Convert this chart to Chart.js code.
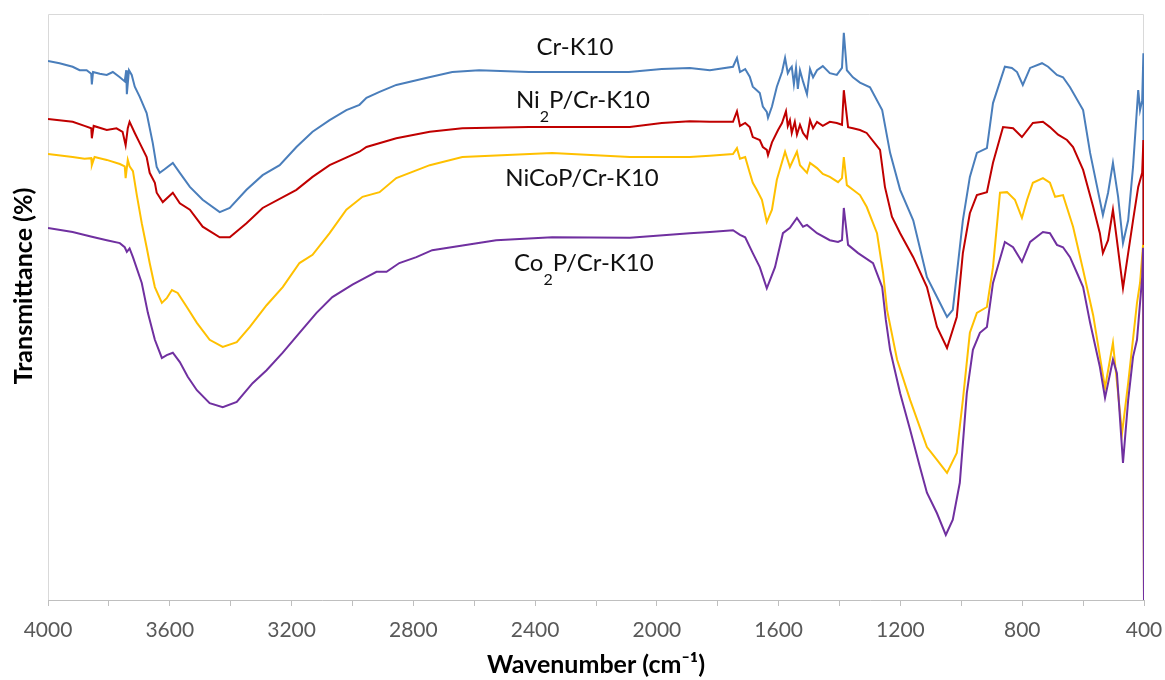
<!DOCTYPE html>
<html><head><meta charset="utf-8">
<script src="https://cdn.jsdelivr.net/npm/chart.js@4.4.0/dist/chart.umd.min.js"></script>
<style>html,body{margin:0;padding:0;background:#fff;}</style>
</head><body>
<canvas id="c" width="1165" height="680"></canvas>
<script>
// x-axis tick values (wavenumber, cm-1)
const xTicks = [4000,3600,3200,2800,2400,2000,1600,1200,800,400];
const seriesNames = ['Cr-K10','Ni2P/Cr-K10','NiCoP/Cr-K10','Co2P/Cr-K10'];

// [wavenumber, transmittance (arb. %)] pairs
const crK10 = [[4000,92.0],[3962,91.6],[3919,91.0],[3896,90.4],[3873,90.4],[3858,89.8],[3856,88.0],[3852,90.1],[3830,89.8],[3807,89.6],[3787,90.1],[3764,89.2],[3748,88.5],[3743,90.4],[3741,86.3],[3734,90.4],[3725,89.6],[3715,87.6],[3699,85.9],[3676,83.1],[3656,78.0],[3643,73.9],[3633,72.9],[3617,73.5],[3590,74.6],[3567,72.9],[3534,70.5],[3492,68.3],[3436,66.2],[3403,66.9],[3348,70.0],[3295,72.5],[3239,74.2],[3184,77.3],[3131,79.9],[3075,81.9],[3020,83.6],[2977,84.5],[2954,85.7],[2911,86.7],[2856,87.9],[2748,89.2],[2672,90.1],[2584,90.4],[2420,90.1],[2092,90.1],[1984,90.6],[1892,90.8],[1826,90.4],[1750,91.0],[1737,92.5],[1727,90.1],[1710,90.6],[1695,89.3],[1685,87.6],[1672,87.0],[1662,86.5],[1652,84.2],[1639,83.3],[1635,82.3],[1622,84.2],[1606,87.6],[1589,90.1],[1579,92.5],[1570,89.9],[1563,90.6],[1557,91.0],[1550,88.0],[1543,90.8],[1537,87.2],[1530,90.4],[1520,88.5],[1507,86.3],[1497,90.6],[1487,89.2],[1474,90.4],[1455,91.1],[1432,89.9],[1409,89.6],[1392,90.8],[1386,96.8],[1376,90.4],[1356,89.2],[1333,88.3],[1300,87.5],[1260,83.6],[1234,76.3],[1201,70.0],[1158,64.8],[1113,55.1],[1080,51.7],[1047,48.3],[1028,49.5],[995,64.8],[972,72.2],[949,76.3],[916,77.1],[896,84.8],[857,91.0],[834,90.8],[817,90.1],[798,87.9],[774,90.8],[735,91.6],[715,91.0],[686,89.6],[666,89.2],[643,87.5],[600,83.6],[577,76.3],[554,70.5],[535,65.7],[518,69.5],[502,74.6],[485,68.8],[469,60.9],[452,64.8],[436,73.9],[419,87.0],[413,83.6],[406,85.3],[402,93.3],[400,0]];

const ni2pCrK10 = [[4000,82.1],[3919,81.6],[3880,80.9],[3858,80.5],[3856,78.8],[3850,80.9],[3807,80.2],[3775,80.5],[3755,79.9],[3745,77.6],[3738,80.5],[3732,81.6],[3715,79.7],[3699,78.0],[3676,75.6],[3666,72.9],[3649,71.2],[3643,69.5],[3623,67.9],[3590,69.5],[3567,67.7],[3534,66.6],[3492,63.7],[3436,61.9],[3403,61.9],[3348,64.3],[3295,66.9],[3184,70.0],[3131,72.2],[3075,74.2],[2977,76.5],[2954,77.3],[2856,78.8],[2746,79.9],[2639,80.5],[2420,80.7],[2089,80.7],[1984,81.4],[1892,81.7],[1826,81.6],[1750,81.6],[1737,83.4],[1727,80.9],[1710,81.4],[1695,80.7],[1685,79.0],[1662,78.5],[1652,77.3],[1639,76.8],[1635,75.9],[1622,78.1],[1602,80.2],[1589,81.4],[1576,83.4],[1570,80.9],[1563,81.9],[1557,79.7],[1547,81.6],[1540,79.4],[1530,81.1],[1520,79.7],[1507,78.8],[1497,81.9],[1487,80.5],[1474,81.6],[1455,80.9],[1432,81.6],[1409,81.4],[1392,81.1],[1386,87.0],[1372,80.7],[1356,80.5],[1333,80.2],[1311,79.7],[1267,76.8],[1251,70.5],[1228,65.4],[1201,62.6],[1158,58.5],[1113,53.4],[1080,46.6],[1047,43.0],[1015,48.3],[995,59.2],[972,66.0],[949,69.1],[916,69.6],[896,74.6],[863,80.7],[830,80.5],[801,79.0],[765,81.4],[732,81.6],[709,80.7],[682,79.4],[653,78.5],[633,77.3],[600,73.4],[567,67.1],[545,62.6],[535,59.2],[518,61.4],[502,66.6],[489,61.4],[469,53.2],[452,59.2],[436,64.8],[419,70.5],[406,72.9],[402,78.5],[400,0]];

const nicopCrK10 = [[4000,76.1],[3919,75.6],[3880,75.3],[3858,75.4],[3856,74.2],[3847,75.6],[3807,75.1],[3764,74.4],[3748,74.0],[3745,72.0],[3738,75.1],[3732,74.0],[3721,73.2],[3708,69.0],[3692,64.3],[3676,60.2],[3666,57.5],[3649,53.4],[3626,50.7],[3610,51.5],[3593,52.9],[3574,52.4],[3544,50.0],[3511,47.3],[3469,44.4],[3426,43.2],[3380,44.0],[3337,46.6],[3282,50.3],[3229,53.4],[3174,57.5],[3131,58.9],[3075,62.6],[3020,66.6],[2967,68.8],[2911,69.6],[2856,72.0],[2746,74.2],[2639,75.6],[2344,76.3],[2089,75.6],[1892,75.6],[1826,75.8],[1750,76.1],[1737,77.1],[1727,75.3],[1710,75.6],[1695,72.9],[1685,71.2],[1672,70.0],[1655,68.3],[1639,64.5],[1622,66.6],[1606,71.7],[1579,76.5],[1563,73.9],[1540,76.5],[1530,74.2],[1507,72.9],[1497,74.6],[1474,73.7],[1455,72.7],[1432,72.2],[1405,71.3],[1392,72.0],[1386,75.6],[1376,70.8],[1356,70.0],[1333,69.1],[1311,67.1],[1277,62.6],[1257,55.8],[1244,49.5],[1211,41.0],[1168,34.1],[1113,26.1],[1080,23.9],[1047,21.7],[1015,25.1],[995,34.1],[972,45.6],[949,49.0],[916,50.0],[896,56.8],[873,69.5],[850,69.6],[824,68.3],[801,65.2],[784,68.3],[765,71.2],[732,72.0],[709,71.2],[692,68.8],[666,69.1],[633,63.7],[600,56.3],[567,48.6],[528,36.2],[502,43.9],[472,28.5],[452,37.0],[423,50.7],[413,54.1],[403,60.6],[400,0]];

const co2pCrK10 = [[4000,63.5],[3919,62.8],[3856,62.0],[3807,61.4],[3764,60.9],[3748,60.2],[3741,59.4],[3732,60.0],[3721,58.5],[3692,54.1],[3672,49.0],[3649,44.4],[3626,41.3],[3610,41.8],[3590,42.2],[3567,40.6],[3541,38.1],[3511,35.8],[3469,33.6],[3426,32.9],[3380,33.8],[3328,37.0],[3282,39.2],[3229,42.2],[3174,45.6],[3118,49.0],[3066,51.7],[3000,53.8],[2954,55.1],[2921,56.0],[2888,56.0],[2846,57.5],[2790,58.5],[2738,59.7],[2649,60.4],[2528,61.4],[2344,61.9],[2089,61.8],[1892,62.6],[1826,62.8],[1750,63.1],[1727,62.3],[1710,61.9],[1685,59.2],[1662,56.8],[1639,53.2],[1612,56.8],[1586,62.6],[1563,63.5],[1540,65.2],[1520,63.7],[1507,64.0],[1474,62.6],[1432,61.4],[1405,61.1],[1392,61.4],[1386,66.9],[1372,60.6],[1339,59.2],[1290,57.5],[1260,53.4],[1248,47.8],[1234,42.7],[1201,35.3],[1168,29.0],[1136,22.7],[1113,18.3],[1080,14.8],[1051,11.1],[1028,13.7],[1005,20.0],[982,35.3],[962,42.7],[939,45.6],[916,46.6],[896,54.1],[857,61.1],[830,60.2],[801,57.7],[774,61.1],[732,62.8],[709,62.6],[686,60.6],[666,60.2],[643,58.5],[620,55.8],[600,53.4],[577,47.3],[545,39.8],[528,34.5],[502,41.0],[489,38.7],[469,23.4],[452,34.1],[436,41.5],[423,44.4],[406,55.1],[403,60.1],[400,0]];

const colors = ['#4a7ebb','#c00000','#ffc000','#7030a0'];
const allSeries = [crK10, ni2pCrK10, nicopCrK10, co2pCrK10];

// label annotations: text parts ([text, isSubscript]) anchored in data units
const seriesLabels = [
  {parts:[['Cr-K10',0]], at:[2269,94.4]},
  {parts:[['Ni',0],['2',1],['P/Cr-K10',0]], at:[2243,85.3]},
  {parts:[['NiCoP/Cr-K10',0]], at:[2246,72.0]},
  {parts:[['Co',0],['2',1],['P/Cr-K10',0]], at:[2240,57.5]}
];
const yTitle = 'Transmittance (%)';

const FONT = 'Lato, "Open Sans", sans-serif';

const deco = {
  id:'deco',
  beforeDatasetsDraw(chart){
    const {ctx, chartArea:a} = chart;
    ctx.save();
    ctx.strokeStyle = '#d9d9d9'; ctx.lineWidth = 1;
    ctx.beginPath();
    ctx.moveTo(a.left+0.5, a.bottom); ctx.lineTo(a.left+0.5, a.top+0.5);
    ctx.lineTo(a.right-0.5, a.top+0.5); ctx.lineTo(a.right-0.5, a.bottom);
    ctx.stroke();
    ctx.restore();
  },
  afterDraw(chart){
    const {ctx, scales:{x,y}} = chart;
    ctx.save();
    ctx.fillStyle = '#111';
    ctx.textBaseline = 'middle';
    ctx.textAlign = 'left';
    const big = '24px ' + FONT, small = '16px ' + FONT;
    seriesLabels.forEach(l => {
      let w = 0;
      l.parts.forEach(p => { ctx.font = p[1] ? small : big; w += ctx.measureText(p[0]).width; });
      let cx = x.getPixelForValue(l.at[0]) - w/2;
      const cy = y.getPixelForValue(l.at[1]);
      l.parts.forEach(p => {
        ctx.font = p[1] ? small : big;
        ctx.fillText(p[0], cx, p[1] ? cy + 17 : cy);
        cx += ctx.measureText(p[0]).width;
      });
    });
    // y-axis title
    ctx.fillStyle = '#000';
    ctx.font = 'bold 25px ' + FONT;
    ctx.textAlign = 'center';
    ctx.translate(24, 286);
    ctx.rotate(-Math.PI/2);
    ctx.fillText(yTitle, 0, 0);
    ctx.restore();
  }
};

new Chart(document.getElementById('c'), {
  type:'line',
  data:{
    datasets: allSeries.map((s,i) => ({
      label: seriesNames[i],
      data: s.map(p => ({x:p[0], y:p[1]})),
      borderColor: colors[i],
      backgroundColor: colors[i],
      borderWidth: 2,
      pointRadius: 0,
      tension: 0,
      fill: false,
      order: 4 - i
    }))
  },
  options:{
    responsive:false,
    animation:false,
    devicePixelRatio:1,
    layout:{padding:{left:0,right:21,top:14,bottom:0}},
    plugins:{legend:{display:false}, tooltip:{enabled:false}},
    scales:{
      x:{
        type:'linear', reverse:true, min:400, max:4000,
        ticks:{stepSize:200, autoSkip:false, maxRotation:0, color:'#595959',
          font:{family:FONT, size:21}, padding:12,
          callback:(v)=> xTicks.includes(v) ? String(v) : ''},
        grid:{drawOnChartArea:false, drawTicks:true, tickLength:6, tickColor:'#bfbfbf', color:'#bfbfbf'},
        border:{color:'#bfbfbf', width:1},
        title:{display:true, text:'Wavenumber (cm⁻¹)', color:'#000',
          font:{family:FONT, size:25, weight:'bold'}, padding:{top:0,bottom:0}},
        afterFit(s){ s.height = 80; s.paddingLeft = 0; s.paddingRight = 0; }
      },
      y:{
        min:0, max:100,
        ticks:{display:false},
        grid:{display:false, drawTicks:false},
        border:{display:false},
        afterFit(s){ s.width = 48; }
      }
    }
  },
  plugins:[deco]
});
</script>
</body></html>
